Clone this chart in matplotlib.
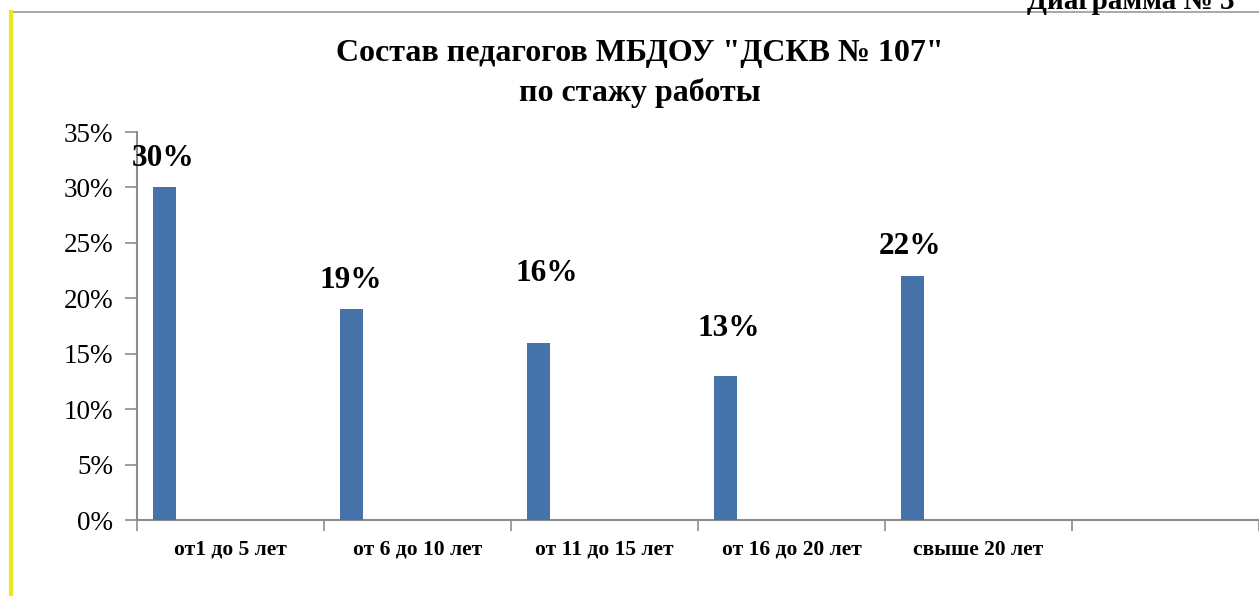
import matplotlib
matplotlib.use("Agg")
import matplotlib.pyplot as plt
from matplotlib.lines import Line2D
from matplotlib.ticker import FuncFormatter

# Data
categories = ["от1 до 5 лет", "от 6 до 10 лет", "от 11 до 15 лет",
              "от 16 до 20 лет", "свыше 20 лет", ""]
values = [0.30, 0.19, 0.16, 0.13, 0.22]
value_labels = ["30%", "19%", "16%", "13%", "22%"]
# label shifts (pixels) – labels were moved by hand in the original
label_dx = [-1, -1, 8, 3, -2]
label_dy = [29, 29, 69, 47, 30]

W, H = 1259, 596
fig = plt.figure(figsize=(W / 100, H / 100), dpi=100)
fig.patch.set_facecolor("white")

serif = ["Liberation Serif", "DejaVu Serif"]
bar_color = "#4672aa"
axis_color = "#8c8c8c"

# axes: left edge at x=137 px, 0% at y=520, 35% at y=132
ax_left, ax_right = 137, W
ax_bottom, ax_top = 520, 132
ax = fig.add_axes([ax_left / W, (H - ax_bottom) / H,
                   (ax_right - ax_left) / W, (ax_bottom - ax_top) / H])

cat_px = 188.2
offset = 0.147
bar_w = 0.122
x = [i - 0.5 + offset for i in range(len(values))]
bars = ax.bar(x, values, width=bar_w, color=bar_color, zorder=3)

for xi, v, lab, dx, dy in zip(x, values, value_labels, label_dx, label_dy):
    ax.annotate(lab, xy=(xi, v), xytext=(dx, dy), textcoords="offset pixels",
                ha="center", va="center", fontsize=22.5, fontweight="bold",
                family=serif, color="black")

ax.set_ylim(0, 0.35)
ax.set_xlim(-0.5, -0.5 + (ax_right - ax_left) / cat_px)
ax.set_yticks([0, 0.05, 0.10, 0.15, 0.20, 0.25, 0.30, 0.35])
ax.yaxis.set_major_formatter(FuncFormatter(lambda v, p: f"{v * 100:.0f}%"))

# category boundaries as ticks, labels centred in the categories
ax.set_xticks([i - 0.5 for i in range(len(categories) + 1)])
ax.set_xticklabels([])
ax.set_xticks(range(len(categories)), minor=True)
ax.set_xticklabels(categories, minor=True, fontsize=15.5, fontweight="bold",
                   family=serif, va="baseline")
ax.tick_params(axis="x", which="minor", length=0, pad=25)
ax.tick_params(axis="x", which="major", length=8, width=1.2, color=axis_color,
               direction="out")
ax.tick_params(axis="y", length=9, width=1.2, color=axis_color, direction="out",
               pad=8, labelsize=19.5)
for t in ax.get_yticklabels():
    t.set_family(serif)

for s in ["top", "right"]:
    ax.spines[s].set_visible(False)
for s in ["left", "bottom"]:
    ax.spines[s].set_color(axis_color)
    ax.spines[s].set_linewidth(1.5)

# title
fig.text(640 / W, 1 - 53 / H, 'Состав педагогов МБДОУ "ДСКВ № 107"',
         ha="center", va="center", fontsize=23, fontweight="bold", family=serif)
fig.text(640 / W, 1 - 93 / H, "по стажу работы",
         ha="center", va="center", fontsize=23, fontweight="bold", family=serif)

# caption at the very top right, cropped by the page edge as in the original
fig.text(1027 / W, 1 - 9 / H, "Диаграмма № 3", ha="left", va="baseline",
         fontsize=21, fontweight="bold", family=serif)

# frame lines of the page
fig.add_artist(Line2D([10 / W, 1], [1 - 12 / H, 1 - 12 / H],
                      transform=fig.transFigure, color="#9a9a9a", lw=1.2))
fig.add_artist(Line2D([11 / W, 11 / W], [0, 1 - 12 / H],
                      transform=fig.transFigure, color="#e8e81a", lw=3))

fig.savefig("out.png", dpi=100, facecolor="white")
